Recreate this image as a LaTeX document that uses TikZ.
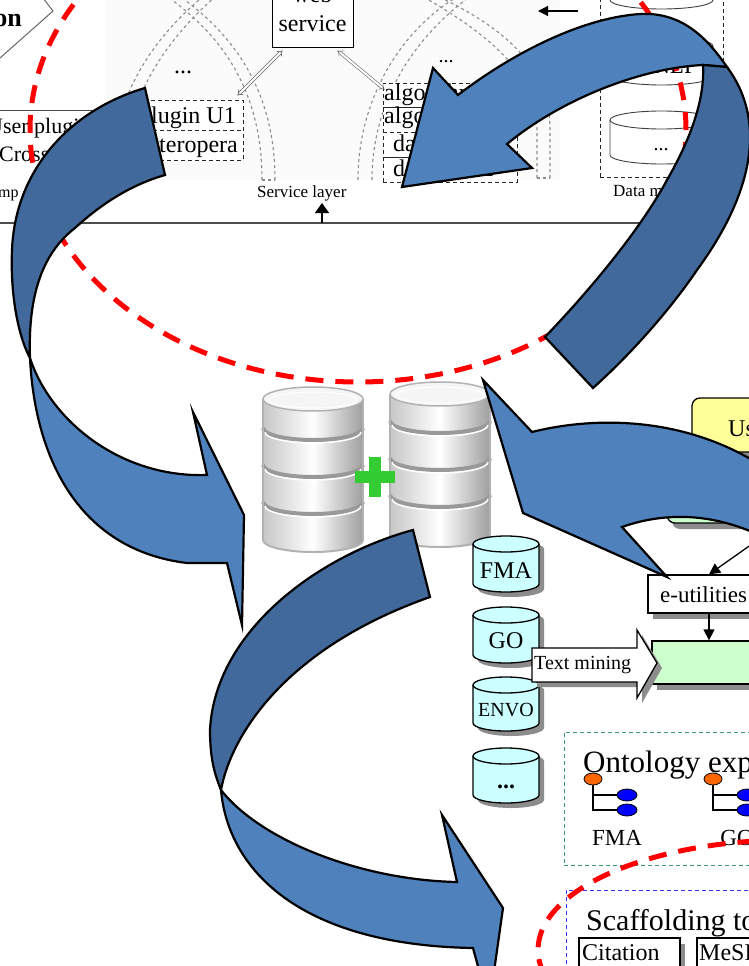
\documentclass[tikz,border=0pt]{standalone}
\usepackage{fontspec}
\setmainfont{Liberation Serif}
\usetikzlibrary{arrows.meta,shadows}

\definecolor{arrowfront}{HTML}{4F81BD}
\definecolor{arrowback}{HTML}{41699B}
\definecolor{loopred}{HTML}{FF0000}
\definecolor{cyanfill}{HTML}{CCFFFF}
\definecolor{mint}{HTML}{CCFFCC}
\definecolor{lemon}{HTML}{FFFF99}
\definecolor{plusgreen}{HTML}{33CC33}
\definecolor{ontgreen}{HTML}{3C9A6E}
\definecolor{scafblue}{HTML}{3333FF}
\definecolor{shadowgray}{HTML}{8C8C8C}
\definecolor{rootorange}{HTML}{FF6600}
\definecolor{leafblue}{HTML}{0000FF}

% glossy grey database: centre x, top ellipse y, three band rims, bottom rim
\newcommand{\dbstack}[6]{%
  \shade[left color=black!22,right color=black!38,middle color=white]
    (#1-50,#2) -- (#1-50,#6)
    arc[start angle=180,end angle=360,x radius=50pt,y radius=12pt]
    -- (#1+50,#2) -- cycle;
  \foreach \yy in {#3,#4,#5}{%
    \draw[black!40,line width=4pt] (#1-50,\yy) arc[start angle=180,end angle=360,x radius=50pt,y radius=12pt];
    \draw[white,line width=1.5pt] (#1-48,\yy+4) arc[start angle=180,end angle=360,x radius=48pt,y radius=11pt];
  }
  \draw[black!30,line width=2pt] (#1-50,#6) arc[start angle=180,end angle=360,x radius=50pt,y radius=12pt];
  \draw[black!30,line width=1.5pt] (#1-50,#2) -- (#1-50,#6) (#1+50,#2) -- (#1+50,#6);
  \draw[black!30,fill=black!4,line width=1.5pt] (#1,#2) ellipse[x radius=50pt,y radius=12pt];
  \draw[white,line width=1pt] (#1,#2+1) ellipse[x radius=44pt,y radius=8pt];
}

% cyan ontology tank with drop shadow: centre x, top y, bottom y
\newcommand{\tankcyl}[3]{%
  \fill[shadowgray] (#1-28,#2+5) -- (#1-28,#3+5)
    arc[start angle=180,end angle=360,x radius=33pt,y radius=8pt]
    -- (#1+38,#2+5) arc[start angle=0,end angle=180,x radius=33pt,y radius=8pt] -- cycle;
  \draw[fill=cyanfill,line width=1.3pt] (#1-33,#2) -- (#1-33,#3)
    arc[start angle=180,end angle=360,x radius=33pt,y radius=8pt]
    -- (#1+33,#2) arc[start angle=0,end angle=180,x radius=33pt,y radius=8pt] -- cycle;
  \draw[line width=1.3pt] (#1-33,#2) arc[start angle=180,end angle=360,x radius=33pt,y radius=8pt];
}

% outlined store in the data module: centre x, top y, bottom y
\newcommand{\plaincyl}[3]{%
  \draw[black!75,fill=white,line width=0.9pt] (#1-51.5,#2) -- (#1-51.5,#3)
    arc[start angle=180,end angle=360,x radius=51.5pt,y radius=9pt]
    -- (#1+51.5,#2) arc[start angle=0,end angle=180,x radius=51.5pt,y radius=9pt] -- cycle;
  \draw[black!75,line width=0.9pt] (#1-51.5,#2) arc[start angle=180,end angle=360,x radius=51.5pt,y radius=9pt];
}

% small hierarchy glyph: root x, root y
\newcommand{\treeicon}[2]{%
  \draw[line width=1.2pt] (#1,#2+5) -- (#1,#2+31) -- (#1+26,#2+31) (#1,#2+16) -- (#1+26,#2+16);
  \draw[fill=rootorange,line width=0.8pt] (#1,#2) ellipse[x radius=9pt,y radius=6pt];
  \draw[fill=leafblue,line width=0.8pt] (#1+34,#2+16) ellipse[x radius=10pt,y radius=6pt];
  \draw[fill=leafblue,line width=0.8pt] (#1+34,#2+31) ellipse[x radius=10pt,y radius=6pt];
}

\begin{document}
\begin{tikzpicture}[x=1pt,y=-1pt,
  fs/.style={font=\fontsize{#1}{#1}\selectfont},
  lbl/.style={inner sep=0pt},
  front/.style={draw=black,line width=2.2pt,line join=miter,fill=arrowfront},
  back/.style={draw=black,line width=2.2pt,line join=miter,fill=arrowback},
  loopline/.style={draw=loopred,line width=5pt,dash pattern=on 18pt off 12pt},
  archline/.style={draw=black!45,line width=1.1pt,dash pattern=on 3pt off 3pt},
  dashbox/.style={draw=black!85,line width=0.9pt,dash pattern=on 4pt off 3pt},
  plainbox/.style={draw=black,line width=1pt,inner sep=0pt},
  dblarrow/.style={draw=black!60,double=white,double distance=2pt,line width=0.6pt,{Implies}-{Implies}},
  pointer/.style={draw=black,line width=1.3pt,-{Triangle[length=11pt,width=11pt]}},
  shadowbox/.style={draw=black,line width=1.3pt,inner sep=0pt,
    drop shadow={shadow xshift=5pt,shadow yshift=-6pt,fill=shadowgray,opacity=1}}
]
\useasboundingbox (0,0) rectangle (749,966);
\clip (0,0) rectangle (749,966);
\fill[white] (0,0) rectangle (749,966);

% ---------- service architecture strip ----------
\fill[black!1.5] (105,-5) rectangle (560,180);

% dotted arches
\draw[archline] (110,180) .. controls (112,100) and (150,40) .. (205,-5);
\draw[archline] (122,180) .. controls (124,105) and (160,45) .. (217,-5);
\draw[archline] (262,180) .. controls (262,100) and (230,40) .. (165,-5);
\draw[archline] (275,180) .. controls (275,100) and (242,40) .. (178,-5);
\draw[archline] (262,180) -- (275,180);
\draw[archline] (358,180) .. controls (358,100) and (400,30) .. (460,-5);
\draw[archline] (372,180) .. controls (372,105) and (410,40) .. (472,-5);
\draw[archline] (537,178) -- (537,130) .. controls (537,80) and (500,40) .. (420,-5);
\draw[archline] (550,178) -- (550,130) .. controls (550,70) and (510,30) .. (435,-5);
\draw[archline] (537,178) -- (550,178);

% left edge fragments
\draw[black!60,line width=1pt] (43,-2) -- (53,11) -- (0,58);
\node[lbl,font=\fontsize{26}{26}\selectfont\bfseries,anchor=base east] (ontxt) at (22,27) {on};
\draw[black!70,line width=1pt] (0,110) -- (112,110);
\node[lbl,fs=22,anchor=base west] (userplug) at (-13,133) {User plugins};
\node[lbl,fs=22,anchor=base west] (cross) at (-1,161) {Cross};
\node[lbl,fs=16,anchor=base west] (mptxt) at (-2,197) {mp};

% web service and its plugins
\node[plainbox,fill=white,minimum width=81pt,minimum height=60pt] (ws) at (312.5,18) {};
\node[lbl,fs=24,anchor=base] (wsweb) at (312.5,3) {web};
\node[lbl,fs=24,anchor=base] (wsservice) at (312.5,32) {service};
\node[lbl,fs=24,anchor=base] (dotsA) at (183,74) {...};
\node[lbl,fs=20,anchor=base] (dotsB) at (446,63) {...};

\node[dashbox,fill=white,minimum width=118pt,minimum height=60pt,inner sep=0pt] (plug) at (184,130) {};
\draw[dashbox] (plug.west) -- (plug.east);
\node[lbl,fs=24,anchor=base east] (plugA) at (236,123) {Plugin U1};
\node[lbl,fs=24,anchor=base east] (plugB) at (238,152) {Interopera};

\node[dashbox,fill=white,minimum width=134pt,minimum height=99pt,inner sep=0pt] (algo) at (450,132.5) {};
\draw[black!85,line width=0.9pt] (383,107) -- (517,107) (383,157) -- (517,157);
\draw[dashbox] (383,132) -- (517,132);
\node[lbl,fs=24,anchor=base west] (algA) at (384,100) {algorithm 1};
\node[lbl,fs=24,anchor=base west] (algB) at (384,123) {algorithm 2};
\node[lbl,fs=24,anchor=base west] (dbA) at (393,151) {database 1};
\node[lbl,fs=24,anchor=base west] (dbB) at (393,176) {database 2};

\draw[dblarrow] ([xshift=11pt,yshift=-2pt]ws.south west) -- ([xshift=-6pt,yshift=4pt]plug.north east);
\draw[dblarrow] ([xshift=-16pt,yshift=-2pt]ws.south east) -- ([xshift=2pt,yshift=-7pt]algo.north west);

% data module
\node[dashbox,minimum width=123pt,minimum height=187pt,inner sep=0pt] (data) at (661.5,83.5) {};
\plaincyl{661.5}{-40}{0}
\plaincyl{661.5}{46}{76}
\plaincyl{661.5}{120}{155}
\node[lbl,fs=23,anchor=base east] (nlp) at (697,74) {GNLP};
\node[lbl,fs=20,anchor=base] (dotsC) at (661,150) {...};
\coordinate (leftA) at (578,11);
\coordinate (leftB) at (538,11);
\draw[black,line width=1.2pt,-{Triangle[length=10pt,width=10pt]}] (leftA) -- (leftB);

% layer captions and bus line
\node[lbl,fs=17,anchor=base west] (svc) at (257,197) {Service layer};
\node[lbl,fs=17,anchor=base west] (dm) at (613,196) {Data model};
\draw[black!70,line width=1.3pt] (0,223) -- (700,223);
\coordinate (svcbase) at (322,223);
\coordinate (svctip) at (322,203);
\draw[black,line width=1.2pt,-{Triangle[length=10pt,width=14pt]}] (svcbase) -- (svctip);

% ---------- red loop around the strip ----------
\draw[loopline] (358,130) ellipse[x radius=328pt,y radius=252pt];

% ---------- merged databases ----------
\dbstack{313}{399}{428}{465}{502}{540}
\dbstack{440}{394}{421}{458}{495}{535}
\fill[plusgreen] (369,457) rectangle (381,497);
\fill[plusgreen] (355,471) rectangle (395,483);

% ---------- ontology tanks ----------
\tankcyl{506}{544}{584}
\tankcyl{506}{615}{655}
\tankcyl{506}{685}{723}
\tankcyl{506}{756}{795}
\node[lbl,fs=24,anchor=base] (tankFMA) at (506,578) {FMA};
\node[lbl,fs=24,anchor=base] (tankGO) at (506,648) {GO};
\node[lbl,fs=20,anchor=base] (tankENVO) at (506,716) {ENVO};
\node[lbl,fs=24,anchor=base] (tankdots) at (506,788) {\textbf{...}};

% ---------- retrieval pipeline ----------
\node[shadowbox,fill=lemon,rounded corners=8pt,minimum width=78pt,minimum height=54pt] (userbox) at (731,425) {};
\node[lbl,fs=24,anchor=base west] (usertxt) at (728,436) {User};
\node[shadowbox,fill=mint,rounded corners=8pt,minimum width=103pt,minimum height=55pt] (gb1) at (718.5,495.5) {};
\node[shadowbox,fill=white,minimum width=122pt,minimum height=38pt] (eu) at (709,594) {};
\node[lbl,fs=23,anchor=base west] (eutxt) at (660,602) {e-utilities};
\node[shadowbox,fill=mint,minimum width=118pt,minimum height=43pt] (gb2) at (711,662.5) {};
\coordinate (feed) at (762,537);
\draw[pointer] (feed) -- (eu.north);
\draw[pointer] (eu.south) -- (eu.south |- gb2.north);

\fill[shadowgray] (537,653) -- (642,653) -- (642,635) -- (662,668) -- (642,703) -- (642,687) -- (537,687) -- cycle;
\draw[fill=white,line width=1.3pt] (532,648) -- (637,648) -- (637,630) -- (657,663) -- (637,698) -- (637,682) -- (532,682) -- cycle;
\node[lbl,fs=20,anchor=base west] (tm) at (534,669) {Text mining};

% ---------- ontology explorer ----------
\node[draw=ontgreen,line width=0.9pt,dash pattern=on 4pt off 3pt,minimum width=206pt,minimum height=133pt,inner sep=0pt] (ontbox) at (667,798.5) {};
\node[lbl,fs=31,anchor=base west] (onttitle) at (583,772) {Ontology explorer};
\treeicon{593}{779}
\treeicon{713}{779}
\node[lbl,fs=23,anchor=base] (ontFMA) at (617,845) {FMA};
\node[lbl,fs=23,anchor=base] (ontGO) at (737,845) {GO};

% ---------- scaffolding tools ----------
\node[draw=scafblue,line width=0.9pt,dash pattern=on 4pt off 3pt,minimum width=204pt,minimum height=110pt,inner sep=0pt] (scaf) at (668,945) {};
\node[lbl,fs=30,anchor=base west] (scaftitle) at (586,930) {Scaffolding tools};
\node[shadowbox,fill=white,minimum width=101pt,minimum height=62pt] (cit) at (629.5,969) {};
\node[lbl,fs=24,anchor=base west] (cittxt) at (582,960) {Citation};
\node[shadowbox,fill=white,minimum width=93pt,minimum height=62pt] (mesh) at (743.5,969) {};
\node[lbl,fs=24,anchor=base west] (meshtxt) at (699,960) {MeSH};

% red loop around the tools
\draw[loopline] (790,950) ellipse[x radius=252pt,y radius=110pt];

% ---------- curved block arrows ----------
% strip -> databases
\draw[back] (145,88) .. controls (70,110) and (15,170) .. (12,250)
  .. controls (10,300) and (20,340) .. (30,358)
  .. controls (28,300) and (40,255) .. (75,228)
  .. controls (100,205) and (130,185) .. (165,175) -- cycle;
\draw[front] (30,358) .. controls (35,460) and (80,550) .. (187,563)
  -- (227,563) -- (242,625) -- (244,515) -- (193,412) -- (207,475)
  .. controls (120,478) and (50,420) .. (30,358) -- cycle;

% back into the strip
\draw[front] (727,67) .. controls (705,35) and (680,12) .. (640,14)
  .. controls (580,18) and (510,55) .. (458,95)
  -- (433,68) -- (402,187) -- (532,168) -- (507,144)
  .. controls (560,100) and (640,68) .. (703,65) -- cycle;
\draw[back] (703,65) -- (727,67) .. controls (768,122) and (752,195) .. (697,270)
  .. controls (670,310) and (630,355) .. (593,388) -- (545,337)
  .. controls (590,290) and (640,230) .. (667,180)
  .. controls (690,140) and (705,100) .. (703,65) -- cycle;

% pipeline -> databases
\draw[front] (483,380) -- (532,432) .. controls (600,415) and (690,418) .. (765,468)
  -- (765,538) .. controls (720,515) and (670,510) .. (622,527)
  -- (667,577) -- (523,513) -- cycle;

% databases -> tools
\draw[back] (413,530) .. controls (320,555) and (215,630) .. (210,730)
  .. controls (210,760) and (215,775) .. (221,790)
  .. controls (230,740) and (280,650) .. (430,597) -- cycle;
\draw[front] (221,790) .. controls (228,870) and (300,945) .. (473,948)
  -- (489,1007) -- (503,908) -- (442,815) -- (457,882)
  .. controls (360,880) and (260,840) .. (221,790) -- cycle;
\end{tikzpicture}
\end{document}
